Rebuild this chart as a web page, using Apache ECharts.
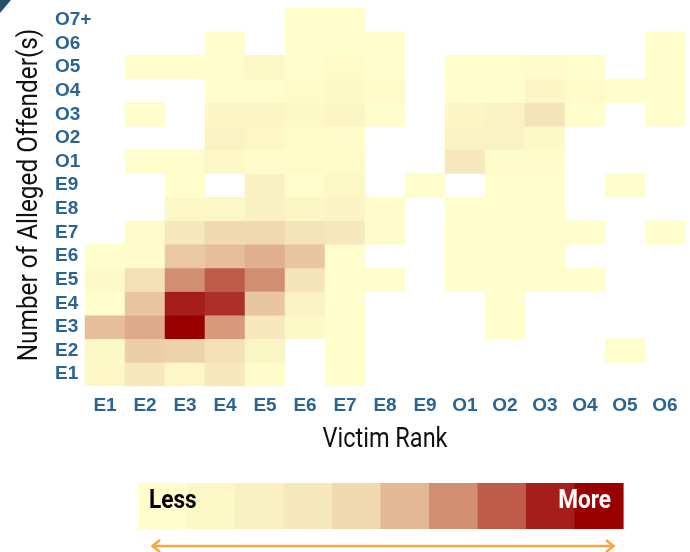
<!DOCTYPE html>
<html>
<head>
<meta charset="utf-8">
<script src="https://cdn.jsdelivr.net/npm/echarts@6/dist/echarts.min.js"></script>
<style>
  html, body { margin: 0; padding: 0; background: #ffffff; }
  #chart { width: 690px; height: 552px; }
</style>
</head>
<body>
<div id="chart"></div>
<script>
// Victim rank categories (x axis)
const victimRanks = ['E1','E2','E3','E4','E5','E6','E7','E8','E9','O1','O2','O3','O4','O5','O6'];
// Offender rank categories (y axis, bottom to top)
const offenderRanks = ['E1','E2','E3','E4','E5','E6','E7','E8','E9','O1','O2','O3','O4','O5','O6','O7+'];

// Relative intensity (1 = Less ... 10 = More) per offender rank, one entry per victim rank; null = no cases
const offE1  = [2.1, 4,   2.1, 4,   1.2, null, 1,   null, null, null, null, null, null, null, null];
const offE2  = [1.8, 5.3, 5.2, 4.5, 2.5, null, 1,   null, null, null, null, null, null, 1,    null];
const offE3  = [5.8, 6.3, 10,  6.7, 4,   1.8,  1,   null, null, null, 1,    null, null, null, null];
const offE4  = [1,   5.6, 9,   8.7, 5.6, 2.7,  1,   null, null, null, 1,    null, null, null, null];
const offE5  = [1.6, 4.5, 7,   8,   7,   4.2,  1,   1,    null, 1,    1,    1,    1,    null, null];
const offE6  = [1,   1.3, 5.5, 5.8, 6.2, 5.6,  1,   null, null, 1,    1,    1,    null, null, null];
const offE7  = [null,1.3, 4,   5,   5,   4.2,  4,   1.3,  null, 1,    1,    1,    1,    null, 1];
const offE8  = [null,null,2,   2,   3,   2.3,  2.7, 1.2,  null, 1,    1,    1,    null, null, null];
const offE9  = [null,null,1,   null,3,   1,    2,   null, 1,    null, 1,    1,    null, 1,    null];
const offO1  = [null,1,   1,   2,   1.2, 1.5,  1.5, null, null, 4,    1.2,  1.2,  null, null, null];
const offO2  = [null,null,null,2.8, 2.2, 1.5,  1.2, null, null, 2.8,  2.8,  1.8,  null, null, null];
const offO3  = [null,1,   null,2.3, 2.5, 1.8,  2.5, 1,    null, 2.3,  2.8,  4.3,  1,    null, 1];
const offO4  = [null,null,null,1,   1,   1.5,  1.8, 1.5,  null, 1,    1,    2.3,  1.5,  1,    1];
const offO5  = [null,1,   1,   1,   2,   1,    1.5, 1,    null, 1,    1,    1.3,  1,    null, 1];
const offO6  = [null,null,null,1,   null,1,    1,   1,    null, null, null, null, null, null, 1];
const offO7p = [null,null,null,null,null,1,    1,   null, null, null, null, null, null, null, null];

// Colour scale (Less -> More)
const scaleColors = ['#FFFDCC','#FCF8C5','#FAF1C2','#F6E7BC','#F0D9AF','#E3B995','#D28E70','#BF5C49','#A51E1A','#990000'];

const rows = [offE1, offE2, offE3, offE4, offE5, offE6, offE7, offE8, offE9, offO1, offO2, offO3, offO4, offO5, offO6, offO7p];
const heatData = [];
rows.forEach(function (row, yi) {
  row.forEach(function (v, xi) {
    if (v !== null) heatData.push([xi, yi, v]);
  });
});

const labelBlue = '#2A6496';
const legendX = 138, legendY = 483, legendW = 48.5, legendH = 46;
const graphics = [
  { type: 'polygon', shape: { points: [[0,0],[11,0],[0,13]] }, style: { fill: '#24506E' } },
  { type: 'text', x: 30, y: 195, rotation: Math.PI / 2, scaleX: 0.87,
    style: { text: 'Number of Alleged Offender(s)', font: '28px Roboto', fill: '#111', align: 'center', verticalAlign: 'middle' } },
  { type: 'text', x: 385, y: 440, scaleX: 0.84,
    style: { text: 'Victim Rank', font: '28px Roboto', fill: '#111', align: 'center', verticalAlign: 'middle' } }
];
scaleColors.forEach(function (c, i) {
  graphics.push({ type: 'rect', shape: { x: legendX + i * legendW, y: legendY, width: legendW + 0.6, height: legendH }, style: { fill: c } });
});
graphics.push({ type: 'text', x: 149, y: 501, scaleX: 0.87,
  style: { text: 'Less', font: 'bold 26px Roboto', fill: '#000', align: 'left', verticalAlign: 'middle' } });
graphics.push({ type: 'text', x: 611, y: 501, scaleX: 0.87,
  style: { text: 'More', font: 'bold 26px Roboto', fill: '#fff', align: 'right', verticalAlign: 'middle' } });
graphics.push({ type: 'line', shape: { x1: 152, y1: 546, x2: 614, y2: 546 }, style: { stroke: '#F5A742', lineWidth: 2.5 } });
graphics.push({ type: 'polyline', shape: { points: [[160,540],[152.5,546],[160,552]] }, style: { stroke: '#F5A742', lineWidth: 2.5, fill: null } });
graphics.push({ type: 'polyline', shape: { points: [[606,540],[613.5,546],[606,552]] }, style: { stroke: '#F5A742', lineWidth: 2.5, fill: null } });

const chart = echarts.init(document.getElementById('chart'), null, { renderer: 'canvas' });
chart.setOption({
  backgroundColor: '#ffffff',
  animation: false,
  grid: { left: 85, top: 8, width: 600, height: 378 },
  xAxis: {
    type: 'category', data: victimRanks,
    axisLine: { show: false }, axisTick: { show: false }, splitArea: { show: false }, splitLine: { show: false },
    axisLabel: { interval: 0, hideOverlap: false, color: labelBlue, fontFamily: 'Liberation Sans, Arial, sans-serif', fontWeight: 'bold', fontSize: 19, margin: 10 }
  },
  yAxis: {
    type: 'category', data: offenderRanks,
    axisLine: { show: false }, axisTick: { show: false }, splitArea: { show: false }, splitLine: { show: false },
    axisLabel: { interval: 0, hideOverlap: false, color: labelBlue, fontFamily: 'Liberation Sans, Arial, sans-serif', fontWeight: 'bold', fontSize: 19, margin: 30, align: 'left' }
  },
  visualMap: {
    type: 'continuous', show: false, min: 1, max: 10, seriesIndex: 0,
    inRange: { color: scaleColors }
  },
  series: [{
    type: 'heatmap',
    data: heatData,
    itemStyle: { borderWidth: 0 },
    emphasis: { disabled: true }
  }],
  graphic: graphics
});
</script>
</body>
</html>
